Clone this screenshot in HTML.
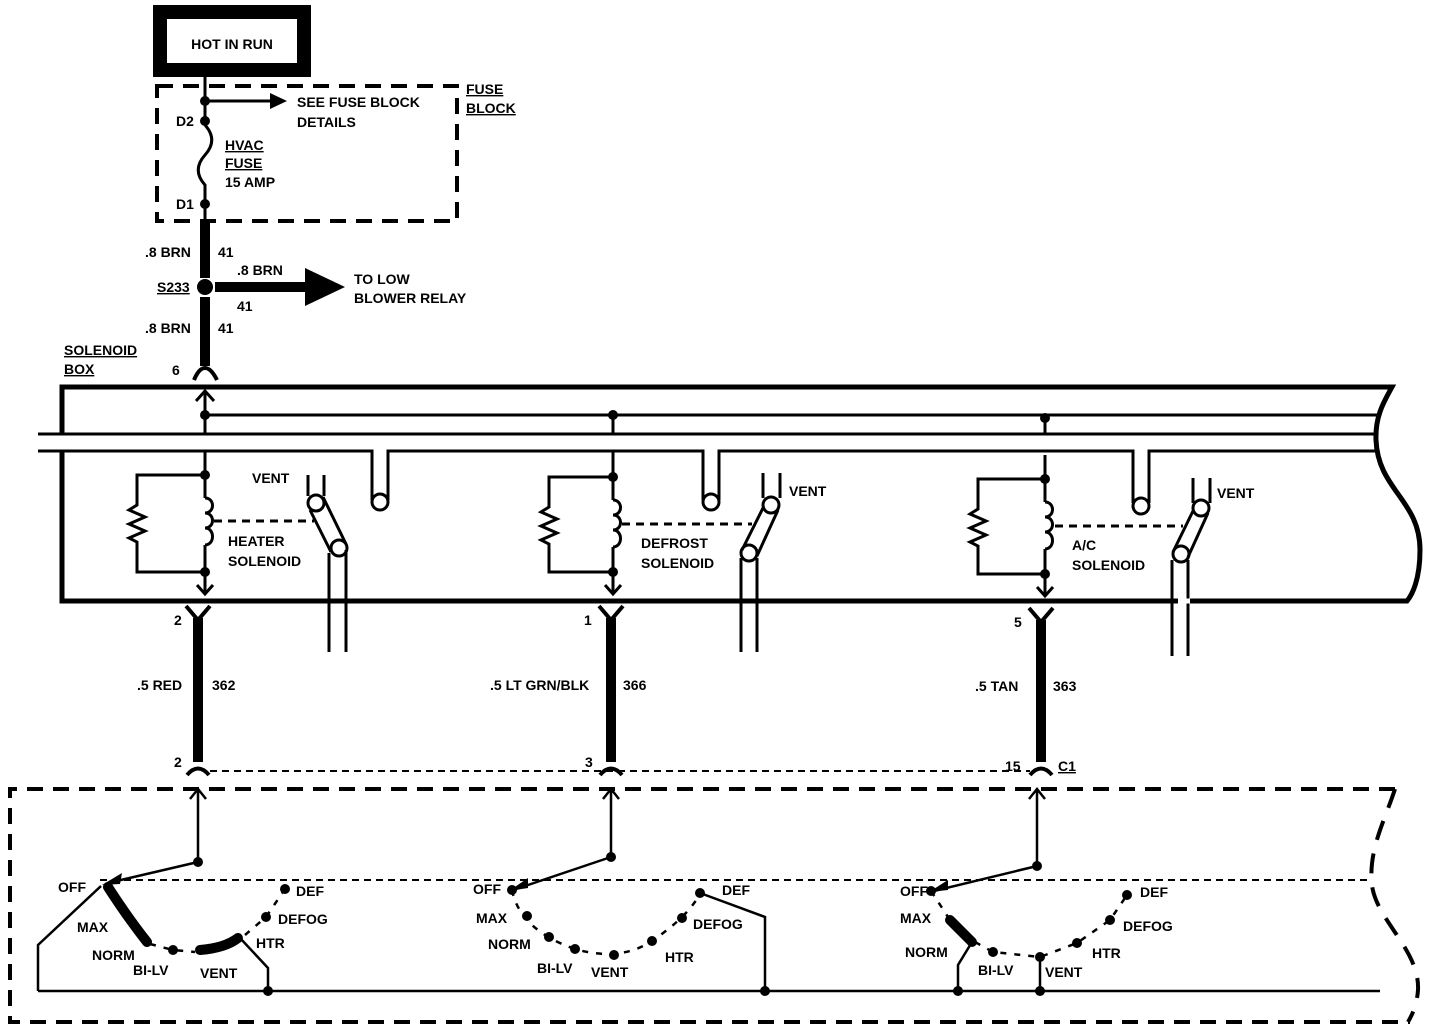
<!DOCTYPE html>
<html><head><meta charset="utf-8"><style>
html,body{margin:0;padding:0;background:#fff;width:1440px;height:1030px;overflow:hidden}
svg{display:block}
text{font-family:"Liberation Sans",sans-serif;font-weight:bold;font-size:14px;fill:#000}
</style></head><body>
<svg width="1440" height="1030" viewBox="0 0 1440 1030" xmlns="http://www.w3.org/2000/svg">
<g fill="none" stroke="#000" stroke-linecap="butt">
<rect x="160" y="12" width="144" height="58" stroke-width="14"/>
<rect x="157" y="86" width="300" height="135" stroke-width="4" stroke-dasharray="16,10"/>
<line x1="205" y1="77" x2="205" y2="125" stroke-width="3"/>
<path d="M205 125 C214 135,214 145,205 155 C196 165,196 175,205 185 L205 222" stroke-width="3"/>
<line x1="205" y1="101" x2="272" y2="101" stroke-width="3"/>
<line x1="205" y1="222" x2="205" y2="278" stroke-width="10"/>
<line x1="215" y1="287" x2="310" y2="287" stroke-width="10"/>
<line x1="205" y1="297" x2="205" y2="366" stroke-width="10"/>
<path d="M194 380 Q199 368 205 368 Q211 368 217 380" stroke-width="4"/>
<path d="M62 434 L62 387 L1392 387 C1385 400,1375 415,1376 440 C1378 490,1420 500,1420 550 C1420 580,1412 595,1407 601 L62 601 L62 451" stroke-width="5"/>
<line x1="205" y1="415" x2="1377" y2="415" stroke-width="3"/>
<line x1="38" y1="434" x2="1376" y2="434" stroke-width="3"/>
<path d="M38 451 L372 451 L372 500 M388 500 L388 451 L703 451 L703 500 M719 500 L719 451 L1133 451 L1133 503 M1149 503 L1149 451 L1377 451" stroke-width="3"/>
<circle cx="380" cy="502" r="8" stroke-width="3"/>
<circle cx="711" cy="502" r="8" stroke-width="3"/>
<circle cx="1141" cy="506" r="8" stroke-width="3"/>
<line x1="205" y1="391" x2="205" y2="434" stroke-width="3"/>
<path d="M196 401 L205 391 L214 401" stroke-width="3"/>
<line x1="613" y1="415" x2="613" y2="434" stroke-width="3"/>
<line x1="1045" y1="415" x2="1045" y2="434" stroke-width="3"/>

<g stroke-width="3">
<path d="M205 451 L205 498 M205 545 L205 594 M197 585 L205 594 L213 585"/>
<path d="M205 498 c10 0,10 15,0 15 c10 0,10 15,0 15 c10 0,10 17,0 17"/>
<path d="M205 475 L137 475 L137 505 L129 510 L145 517 L129 524 L145 531 L129 538 L137 542 L137 572 L205 572"/>
<line x1="214" y1="521" x2="314" y2="521" stroke-dasharray="8,6"/>
<path d="M308 475 L308 496 M324 475 L324 496"/>
<circle cx="316" cy="503" r="8"/><circle cx="339" cy="548" r="8"/>
<path d="M310 510 L331 552 M323 497 L346 544"/>
<path d="M329 553 L329 652 M346 550 L346 652"/>

<path d="M613 451 L613 500 M613 547 L613 594 M605 585 L613 594 L621 585"/>
<path d="M613 500 c10 0,10 15,0 15 c10 0,10 15,0 15 c10 0,10 17,0 17"/>
<path d="M613 477 L549 477 L549 507 L541 512 L557 519 L541 526 L557 533 L541 540 L549 544 L549 572 L613 572"/>
<line x1="622" y1="524" x2="752" y2="524" stroke-dasharray="8,6"/>
<path d="M763 473 L763 498 M780 473 L780 498"/>
<circle cx="771" cy="505" r="8"/><circle cx="749" cy="553" r="8"/>
<path d="M763 508 L742 550 M778 510 L757 556"/>
<path d="M741 558 L741 652 M757 558 L757 652"/>

<path d="M1045 455 L1045 502 M1045 549 L1045 596 M1037 587 L1045 596 L1053 587"/>
<path d="M1045 502 c10 0,10 15,0 15 c10 0,10 15,0 15 c10 0,10 17,0 17"/>
<path d="M1045 479 L978 479 L978 509 L970 514 L986 521 L970 528 L986 535 L970 542 L978 546 L978 574 L1045 574"/>
<line x1="1055" y1="526" x2="1183" y2="526" stroke-dasharray="8,6"/>
<path d="M1193 478 L1193 503 M1210 478 L1210 503"/>
<circle cx="1201" cy="508" r="8"/><circle cx="1181" cy="554" r="8"/>
<path d="M1193 511 L1173 552 M1208 513 L1188 557"/>
<path d="M1172 560 L1172 656 M1188 560 L1188 656"/>
</g>
<line x1="1178" y1="601" x2="1190" y2="601" stroke="#fff" stroke-width="5"/>

<g stroke-width="10">
<line x1="198" y1="618" x2="198" y2="762"/>
<line x1="611" y1="618" x2="611" y2="762"/>
<line x1="1041" y1="620" x2="1041" y2="762"/>
</g>
<g stroke-width="4">
<path d="M186 606 L198 620 L210 606"/>
<path d="M599 606 L611 620 L623 606"/>
<path d="M1029 608 L1041 622 L1053 608"/>
<path d="M187 775 Q198 762 209 775"/>
<path d="M600 775 Q611 762 622 775"/>
<path d="M1030 775 Q1041 762 1052 775"/>
</g>
<line x1="210" y1="771" x2="1030" y2="771" stroke-width="2" stroke-dasharray="7,5"/>

<path d="M1395 789 L10 789 L10 1022 L1410 1022" stroke-width="4" stroke-dasharray="16,10"/>
<path d="M1395 789 C1385 820,1368 850,1372 885 C1376 920,1420 950,1418 990 C1417 1005,1412 1015,1408 1022" stroke-width="4" stroke-dasharray="20,14"/>
<line x1="100" y1="880" x2="1370" y2="880" stroke-width="2" stroke-dasharray="7,5"/>

<g stroke-width="2.5">
<path d="M198 862 L198 790 M190 799 L198 789 L206 799"/>
<path d="M611 857 L611 790 M603 799 L611 789 L619 799"/>
<path d="M1037 866 L1037 790 M1029 799 L1037 789 L1045 799"/>
<path d="M198 862 L108 883"/>
<path d="M611 857 L516 889"/>
<path d="M1037 866 L934 891"/>
<path d="M38 991 L1380 991"/>
<path d="M38 991 L38 945 L101 886"/>
<path d="M240 938 L268 968 L268 991"/>
<path d="M700 893 L765 917 L765 991"/>
<path d="M972 942 L958 965 L958 991"/>
<path d="M1040 957 L1040 991"/>
</g>
<g stroke-width="2.5" stroke-dasharray="6,8">
<path d="M150 944 L173 950 L195 952"/>
<path d="M245 935 L266 917 L285 889"/>
<path d="M512 890 Q520 930 575 949 Q620 962 652 941 Q690 915 700 893"/>
<path d="M931 891 L948 917"/>
<path d="M975 942 L993 952 L1040 957 L1077 943 L1110 920 L1127 895"/>
</g>
<g stroke-width="10" stroke-linecap="round">
<path d="M108 887 Q128 918 147 942"/>
<path d="M200 950 Q225 948 238 938"/>
<path d="M950 920 L972 942"/>
</g>
</g>

<g fill="#000">
<polygon points="270,93 287,101 270,109"/>
<polygon points="305,268 345,287 305,306"/>
<polygon points="102,885 122,873 120,884"/>
<polygon points="509,891 528,878 528,888"/>
<polygon points="929,892 948,880 948,890"/>
<circle cx="205" cy="101" r="5"/><circle cx="205" cy="121" r="5"/><circle cx="205" cy="204" r="5"/>
<circle cx="205" cy="287" r="8"/>
<circle cx="205" cy="415" r="5"/><circle cx="613" cy="415" r="5"/><circle cx="1045" cy="418" r="5"/>
<circle cx="205" cy="475" r="5"/><circle cx="205" cy="572" r="5"/>
<circle cx="613" cy="477" r="5"/><circle cx="613" cy="572" r="5"/>
<circle cx="1045" cy="479" r="5"/><circle cx="1045" cy="574" r="5"/>
<circle cx="198" cy="862" r="5"/><circle cx="611" cy="857" r="5"/><circle cx="1037" cy="866" r="5"/>
<circle cx="173" cy="950" r="5"/><circle cx="266" cy="917" r="5"/><circle cx="285" cy="889" r="5"/>
<circle cx="268" cy="991" r="5"/>
<circle cx="512" cy="890" r="5"/><circle cx="527" cy="916" r="5"/><circle cx="549" cy="937" r="5"/><circle cx="575" cy="949" r="5"/><circle cx="614" cy="955" r="5"/><circle cx="652" cy="941" r="5"/><circle cx="682" cy="918" r="5"/><circle cx="700" cy="893" r="5"/><circle cx="765" cy="991" r="5"/>
<circle cx="931" cy="891" r="5"/><circle cx="993" cy="952" r="5"/><circle cx="1040" cy="957" r="5"/><circle cx="1077" cy="943" r="5"/><circle cx="1110" cy="920" r="5"/><circle cx="1127" cy="895" r="5"/>
<circle cx="958" cy="991" r="5"/><circle cx="1040" cy="991" r="5"/>
</g>

<text x="232" y="49" text-anchor="middle">HOT IN RUN</text>
<text x="466" y="94" text-decoration="underline">FUSE</text>
<text x="466" y="113" text-decoration="underline">BLOCK</text>
<text x="297" y="107">SEE FUSE BLOCK</text>
<text x="297" y="127">DETAILS</text>
<text x="176" y="126">D2</text>
<text x="176" y="209">D1</text>
<text x="225" y="150" text-decoration="underline">HVAC</text>
<text x="225" y="168" text-decoration="underline">FUSE</text>
<text x="225" y="187">15 AMP</text>
<text x="145" y="257">.8 BRN</text><text x="218" y="257">41</text>
<text x="157" y="292" text-decoration="underline">S233</text>
<text x="237" y="275">.8 BRN</text><text x="237" y="311">41</text>
<text x="354" y="284">TO LOW</text><text x="354" y="303">BLOWER RELAY</text>
<text x="145" y="333">.8 BRN</text><text x="218" y="333">41</text>
<text x="64" y="355" text-decoration="underline">SOLENOID</text>
<text x="64" y="374" text-decoration="underline">BOX</text>
<text x="172" y="375">6</text>
<text x="252" y="483">VENT</text>
<text x="228" y="546">HEATER</text><text x="228" y="566">SOLENOID</text>
<text x="789" y="496">VENT</text>
<text x="641" y="548">DEFROST</text><text x="641" y="568">SOLENOID</text>
<text x="1217" y="498">VENT</text>
<text x="1072" y="550">A/C</text><text x="1072" y="570">SOLENOID</text>
<text x="174" y="625">2</text><text x="584" y="625">1</text><text x="1014" y="627">5</text>
<text x="137" y="690">.5 RED</text><text x="212" y="690">362</text>
<text x="490" y="690">.5 LT GRN/BLK</text><text x="623" y="690">366</text>
<text x="975" y="691">.5 TAN</text><text x="1053" y="691">363</text>
<text x="174" y="767">2</text><text x="585" y="767">3</text><text x="1005" y="771">15</text>
<text x="1058" y="771" text-decoration="underline">C1</text>
<text x="58" y="892">OFF</text><text x="77" y="932">MAX</text><text x="92" y="960">NORM</text>
<text x="133" y="975">BI-LV</text><text x="200" y="978">VENT</text><text x="256" y="948">HTR</text>
<text x="278" y="924">DEFOG</text><text x="296" y="896">DEF</text>
<text x="473" y="894">OFF</text><text x="476" y="923">MAX</text><text x="488" y="949">NORM</text>
<text x="537" y="973">BI-LV</text><text x="591" y="977">VENT</text><text x="665" y="962">HTR</text>
<text x="693" y="929">DEFOG</text><text x="722" y="895">DEF</text>
<text x="900" y="896">OFF</text><text x="900" y="923">MAX</text><text x="905" y="957">NORM</text>
<text x="978" y="975">BI-LV</text><text x="1045" y="977">VENT</text><text x="1092" y="958">HTR</text>
<text x="1123" y="931">DEFOG</text><text x="1140" y="897">DEF</text>
</svg>
</body></html>
